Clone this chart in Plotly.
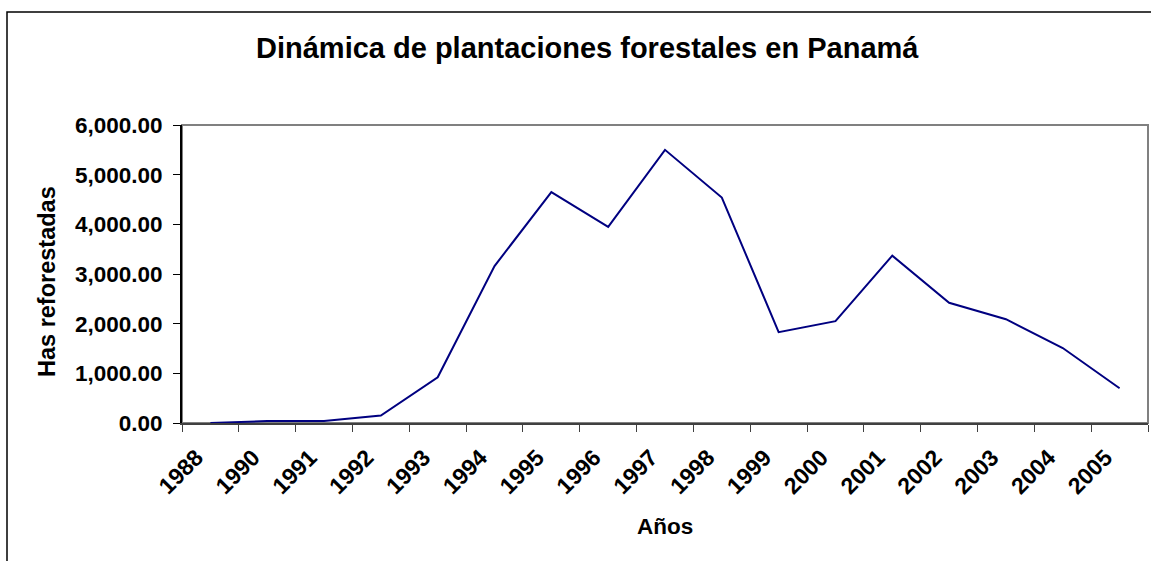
import plotly.graph_objects as go

# Reforested hectares per year in Panama
years = ["1988", "1990", "1991", "1992", "1993", "1994", "1995", "1996", "1997",
         "1998", "1999", "2000", "2001", "2002", "2003", "2004", "2005"]
hectares = [0, 40, 40, 150, 920, 3160, 4650, 3950, 5500,
            4540, 1830, 2050, 3370, 2420, 2090, 1510, 700]

y_ticks = [0, 1000, 2000, 3000, 4000, 5000, 6000]

title_text = "Dinámica de plantaciones forestales en Panamá"
x_title = "Años"
y_title = "Has reforestadas"

W, H = 1151, 561
L, R, T, B = 182, 3, 125, 138
pw, ph = W - L - R, H - T - B


def px_x(p):
    return (p - L) / pw


def px_y(p):
    return (H - B - p) / ph


FONT = "Liberation Sans, Arial, sans-serif"

fig = go.Figure()
fig.add_trace(go.Scatter(
    x=years, y=hectares, mode="lines",
    line=dict(color="#000080", width=2),
    showlegend=False, hoverinfo="x+y",
))

fig.update_layout(
    width=W, height=H,
    margin=dict(l=L, r=R, t=T, b=B),
    paper_bgcolor="white", plot_bgcolor="white",
    font=dict(family=FONT, color="black"),
    xaxis=dict(
        type="category", tickson="boundaries",
        ticks="outside", ticklen=7, tickcolor="#404040", tickwidth=1,
        showline=True, linecolor="#404040", linewidth=2,
        showgrid=False, zeroline=False, tickangle=-45,
        ticklabelshift=-14, ticklabelstandoff=10,
        tickfont=dict(family=FONT, size=23, color="black", weight="bold"),
        range=[-0.5, len(years) - 0.5],
    ),
    yaxis=dict(
        range=[0, 6000], tickvals=y_ticks, tickformat=",.2f",
        ticks="outside", ticklen=7, tickcolor="black", tickwidth=1,
        showline=True, linecolor="black", linewidth=2,
        showgrid=False, zeroline=False, ticklabelstandoff=6,
        tickfont=dict(family=FONT, size=22.5, color="black", weight="bold"),
    ),
    shapes=[
        # plot-area frame
        dict(type="rect", xref="x domain", yref="y domain", x0=0, x1=1, y0=0, y1=1,
             line=dict(color="#808080", width=2), layer="below"),
        # outer chart frame
        dict(type="rect", xref="paper", yref="paper",
             x0=px_x(7), x1=px_x(1190), y0=px_y(600), y1=px_y(12),
             line=dict(color="black", width=1.5), layer="below"),
    ],
    annotations=[
        dict(text=title_text, xref="paper", yref="paper", x=px_x(587.5), y=px_y(48),
             xanchor="center", yanchor="middle", showarrow=False,
             font=dict(family=FONT, size=29, color="black", weight="bold")),
        dict(text=x_title, xref="paper", yref="paper", x=0.5, y=px_y(526),
             xanchor="center", yanchor="middle", showarrow=False,
             font=dict(family=FONT, size=22.5, color="black", weight="bold")),
        dict(text=y_title, xref="paper", yref="paper", x=px_x(47), y=px_y(282),
             xanchor="center", yanchor="middle", showarrow=False, textangle=-90,
             font=dict(family=FONT, size=23.5, color="black", weight="bold")),
    ],
)

fig.write_html("out.html")
